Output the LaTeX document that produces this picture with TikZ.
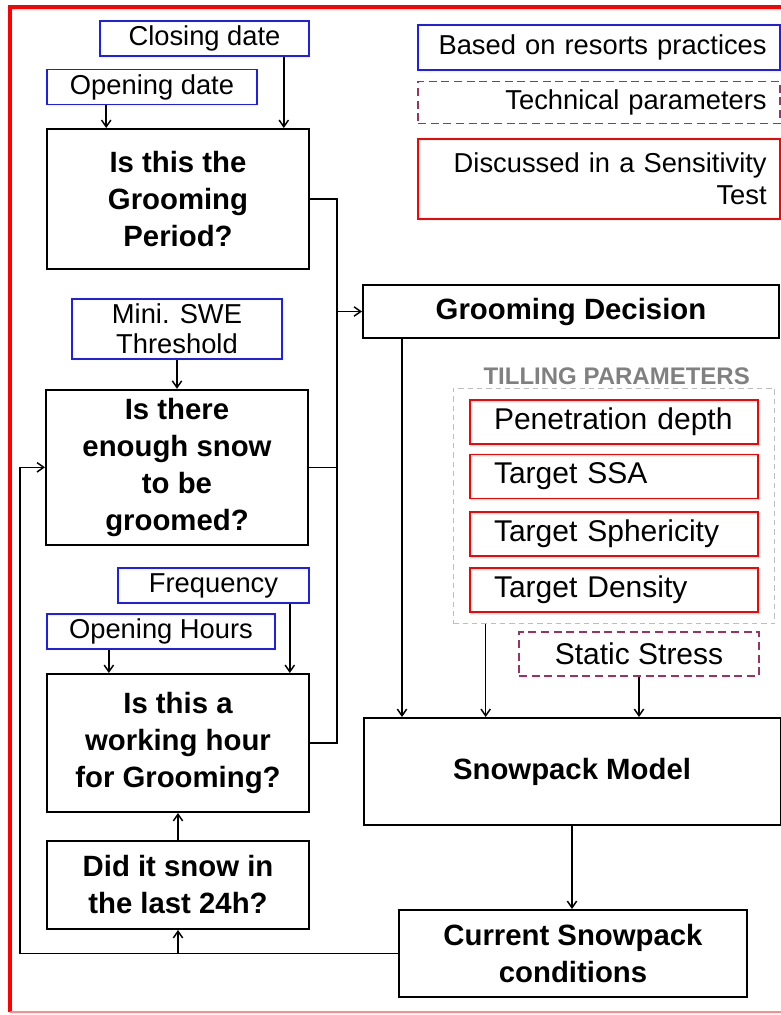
\documentclass[tikz,border=0pt]{standalone}
\usepackage{fontspec}
\setmainfont{Liberation Sans}
\usetikzlibrary{arrows.meta,positioning,fit}

\definecolor{resortblue}{RGB}{30,30,240}
\definecolor{techpurple}{RGB}{153,51,102}
\definecolor{tillgray}{RGB}{190,190,190}

\begin{document}
\begin{tikzpicture}[x=0.75pt,
            y=-0.75pt,
            >={Straight Barb[length=5pt,width=7pt]},
            line width=1.1pt,
            question/.style={draw, line width=1.5pt, minimum width=196.5pt,
                             align=center, inner sep=0pt,
                             font=\fontsize{22}{27.75}\selectfont\bfseries},
            practice/.style={draw=resortblue, line width=1.2pt, minimum height=26.25pt,
                             inner sep=0pt, font=\fontsize{20.5}{24}\selectfont},
            technical/.style={draw=techpurple, line width=1pt,
                              dash pattern=on 6pt off 3.5pt, minimum height=31.5pt,
                              inner sep=0pt, font=\fontsize{20.5}{24}\selectfont},
            sensitivity/.style={draw=red, line width=1.2pt,
                                inner sep=0pt, font=\fontsize{20.5}{24}\selectfont},
            legend/.style={minimum width=271.5pt, minimum height=33.75pt,
                           text width=251.5pt, align=right, inner xsep=10pt},
            param/.style={sensitivity, minimum width=216pt, minimum height=33pt,
                          text width=180pt, align=left, inner xsep=18pt,
                          font=\fontsize{22.5}{26}\selectfont}]

        \useasboundingbox (0,0) rectangle (781,1015);

        % frame of the figure
        \draw[red, line width=2.8pt] (781,7) -- (10,7) -- (10,1012);
        \draw[red!45, line width=1.8pt] (10,1012) -- (781,1012);

        % left column
        \node[practice, minimum width=156.75pt] (closing)   at (204.5,38.5) {Closing date};
        \node[practice, minimum width=157.5pt]  (opendate)  at (152,87)     {Opening date};
        \node[question, minimum height=105pt]   (period)    at (178,199)    {Is this the\\Grooming\\Period?};
        \node[practice, minimum width=157.5pt, minimum height=45pt, align=center,
              font=\fontsize{20.5}{22.5}\selectfont] (swe) at (177,329) {Mini. SWE\\Threshold};
        \node[question, minimum height=116.25pt, below=21.75pt of swe] (snow) {Is there\\enough snow\\to be\\groomed?};
        \node[practice, minimum width=143.25pt] (freq)      at (213.5,585.5) {Frequency};
        \node[practice, minimum width=171pt]    (openhours) at (161,631.5)   {Opening Hours};
        \node[question, minimum height=103.5pt] (working)   at (178,743)     {Is this a\\working hour\\for Grooming?};
        \node[question, minimum height=66pt, below=20.25pt of working] (didsnow) {Did it snow in\\the last 24h?};

        % right column
        \node[practice, legend] (practices) at (599,47.5) {Based on resorts practices};
        \node[technical, legend, minimum height=31.5pt, below=7.5pt of practices] (technical) {Technical parameters};
        \node[sensitivity, legend, minimum height=60pt, below=10.5pt of technical] (discussed) {Discussed in a Sensitivity\\Test};

        \node[question, minimum width=312pt, minimum height=39.75pt] (decision) at (571,311.5) {Grooming Decision};

        \node[param] (pen) at (614,422) {Penetration depth};
        \node[param, below=6.75pt of pen] (ssa)  {Target SSA};
        \node[param, below=9pt of ssa]    (sph)  {Target Sphericity};
        \node[param, below=7.5pt of sph]  (dens) {Target Density};
        \node[draw=tillgray, line width=0.8pt, dash pattern=on 4pt off 3pt,
              inner xsep=12pt, inner ysep=8.25pt, fit=(pen)(ssa)(sph)(dens)] (tilling) {};
        \node[above=1.5pt of tilling, xshift=2pt, inner sep=0pt, text=gray,
              font=\fontsize{18}{20}\selectfont\bfseries] (tilltitle) {TILLING PARAMETERS};

        \node[technical, minimum width=180pt, minimum height=33pt,
              font=\fontsize{22.5}{26}\selectfont] (static) at (639,654) {Static Stress};

        \node[question, minimum width=312.75pt, minimum height=80.25pt] (model)   at (572,771.5) {Snowpack Model};
        \node[question, minimum width=261pt, minimum height=65.25pt]    (current) at (573,953.5) {Current Snowpack\\conditions};

        % inputs of the questions
        \coordinate (a1) at ([xshift=45pt]opendate.south west);
        \coordinate (a2) at ([xshift=-19.5pt]closing.south east);
        \coordinate (a3) at ([xshift=47pt]openhours.south west);
        \coordinate (a4) at ([xshift=-15pt]freq.south east);
        \draw[->] (a1) -- (a1 |- period.north);
        \draw[->] (a2) -- (a2 |- period.north);
        \draw[->] (swe) -- (snow);
        \draw[->] (a3) -- (a3 |- working.north);
        \draw[->] (a4) -- (a4 |- working.north);
        \draw[->] (didsnow) -- (working);

        % answers to the decision
        \coordinate (busT) at ([xshift=20.25pt]period.east);
        \draw (period.east) -- (busT) |- (working.east);
        \draw (snow.east) -- (snow.east -| busT);
        \draw[->] (decision.west -| busT) -- (decision.west);

        % feedback loop
        \coordinate (loopL) at ([xshift=-18.75pt]snow.west);
        \draw[->] (current.west) -| (loopL) -- (snow.west);
        \draw[->] (didsnow.south |- current.west) -- (didsnow.south);

        % into the model
        \coordinate (a5) at ([xshift=30pt]decision.south west);
        \coordinate (a6) at ([xshift=24.75pt]tilling.south west);
        \draw[->] (a5) -- (a5 |- model.north);
        \draw[->] (a6) -- (a6 |- model.north);
        \draw[->] (static) -- (static.south |- model.north);
        \draw[->] (model.south) -- (model.south |- current.north);

\end{tikzpicture}
\end{document}
